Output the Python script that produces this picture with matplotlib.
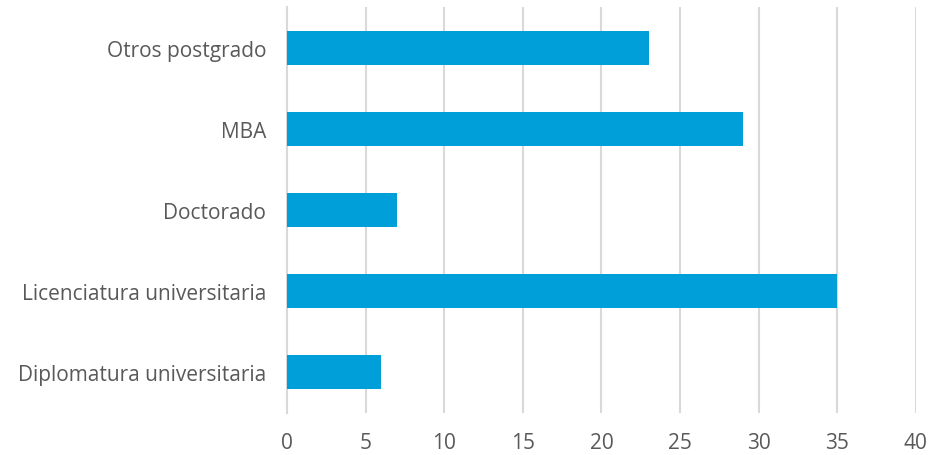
import matplotlib
matplotlib.use('Agg')
import matplotlib.pyplot as plt

categorias = ['Diplomatura universitaria', 'Licenciatura universitaria', 'Doctorado', 'MBA', 'Otros postgrado']
valores = [6, 35, 7, 29, 23]
ticks_x = [0, 5, 10, 15, 20, 25, 30, 35, 40]

plt.rcParams['font.family'] = ['Open Sans', 'DejaVu Sans']

fig = plt.figure(figsize=(9.31, 4.56), dpi=100)
ax = fig.add_axes([0.3083, 0.0921, 0.6755, 0.8904])

ax.barh(range(len(categorias)), valores, height=0.42, color='#009FDA', zorder=3)

ax.set_xlim(0, 40)
ax.set_ylim(-0.5, len(categorias) - 0.5)
ax.set_xticks(ticks_x)
ax.set_yticks(range(len(categorias)))
ax.set_yticklabels(categorias)

ax.grid(axis='x', color='#D9D9D9', linewidth=1.5, zorder=0)
for s in ['top', 'right', 'bottom']:
    ax.spines[s].set_visible(False)
ax.spines['left'].set_color('#D9D9D9')
ax.spines['left'].set_linewidth(1.5)

ax.tick_params(axis='both', length=0, labelsize=15, colors='#595959')
ax.tick_params(axis='x', pad=14)
ax.tick_params(axis='y', pad=15)

fig.savefig('out.png', dpi=100)
